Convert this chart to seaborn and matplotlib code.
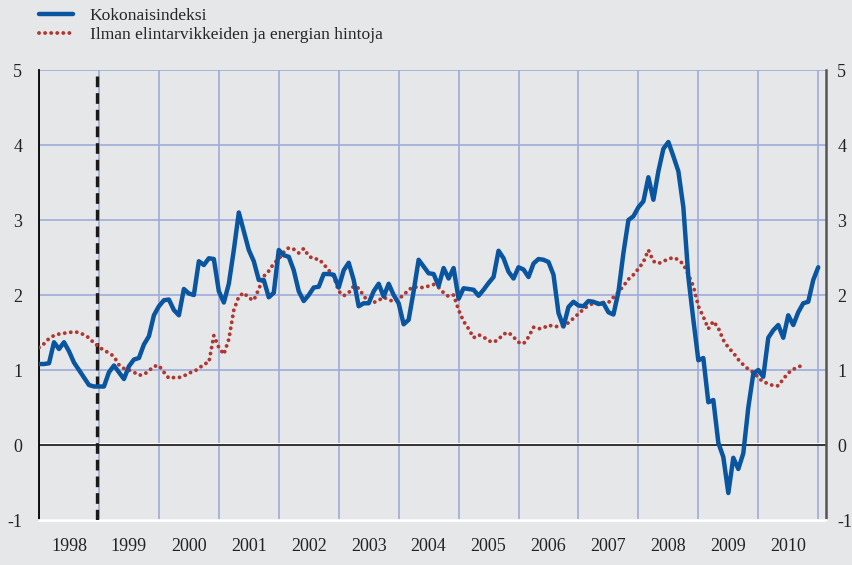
import numpy as np
import pandas as pd
import seaborn as sns
import matplotlib.pyplot as plt
import matplotlib.transforms as mtransforms
from matplotlib.lines import Line2D

# monthly values, Jan 1998 onwards
kokonais = [1.08, 1.08, 1.09, 1.37, 1.28, 1.37, 1.25, 1.10, 1.00, 0.90, 0.80, 0.78,
            0.78, 0.78, 0.97, 1.06, 0.97, 0.88, 1.05, 1.14, 1.16, 1.34, 1.45, 1.73,
            1.85, 1.93, 1.94, 1.80, 1.73, 2.08, 2.02, 2.00, 2.45, 2.40, 2.49, 2.48,
            2.05, 1.90, 2.15, 2.60, 3.10, 2.85, 2.60, 2.45, 2.20, 2.20, 1.97, 2.03,
            2.60, 2.53, 2.51, 2.33, 2.05, 1.92, 2.00, 2.10, 2.11, 2.28, 2.28, 2.27,
            2.10, 2.33, 2.43, 2.20, 1.85, 1.89, 1.89, 2.05, 2.15, 1.98, 2.15, 2.00,
            1.89, 1.61, 1.67, 2.05, 2.47, 2.38, 2.29, 2.28, 2.12, 2.36, 2.22, 2.36,
            1.95, 2.09, 2.08, 2.07, 1.99, 2.07, 2.16, 2.24, 2.59, 2.49, 2.31, 2.22,
            2.37, 2.34, 2.24, 2.42, 2.48, 2.47, 2.44, 2.27, 1.76, 1.58, 1.84, 1.91,
            1.86, 1.85, 1.92, 1.91, 1.88, 1.89, 1.77, 1.74, 2.04, 2.56, 3.00, 3.05,
            3.17, 3.25, 3.57, 3.27, 3.65, 3.95, 4.04, 3.85, 3.65, 3.17, 2.24, 1.67,
            1.13, 1.16, 0.57, 0.60, 0.03, -0.16, -0.64, -0.17, -0.32, -0.11, 0.50, 0.95,
            1.00, 0.91, 1.43, 1.53, 1.60, 1.43, 1.73, 1.60, 1.77, 1.89, 1.91, 2.20,
            2.37]

ilman = [1.30, 1.35, 1.42, 1.46, 1.48, 1.49, 1.50, 1.51, 1.50, 1.47, 1.43, 1.36,
         1.31, 1.26, 1.23, 1.18, 1.07, 1.02, 1.00, 0.97, 0.93, 0.94, 0.99, 1.05,
         1.06, 0.97, 0.89, 0.90, 0.90, 0.92, 0.96, 0.98, 1.02, 1.08, 1.10, 1.46,
         1.30, 1.21, 1.41, 1.80, 1.98, 2.03, 1.96, 1.93, 2.08, 2.25, 2.32, 2.42,
         2.48, 2.57, 2.63, 2.61, 2.56, 2.62, 2.52, 2.48, 2.48, 2.41, 2.33, 2.25,
         2.05, 1.99, 2.03, 2.12, 2.09, 1.99, 1.90, 1.90, 1.93, 1.97, 1.94, 1.91,
         1.95, 2.00, 2.07, 2.11, 2.10, 2.10, 2.12, 2.14, 2.10, 2.03, 1.98, 2.00,
         1.80, 1.65, 1.55, 1.43, 1.47, 1.44, 1.39, 1.37, 1.41, 1.48, 1.50, 1.44,
         1.37, 1.35, 1.44, 1.57, 1.55, 1.56, 1.60, 1.58, 1.58, 1.59, 1.63, 1.69,
         1.75, 1.81, 1.86, 1.89, 1.90, 1.90, 1.90, 1.97, 2.04, 2.12, 2.21, 2.27,
         2.35, 2.44, 2.60, 2.45, 2.42, 2.45, 2.48, 2.50, 2.47, 2.41, 2.27, 2.12,
         1.85, 1.71, 1.55, 1.65, 1.56, 1.40, 1.30, 1.23, 1.14, 1.07, 1.01, 0.97,
         0.90, 0.84, 0.82, 0.79, 0.79, 0.88, 0.96, 1.01, 1.04, 1.07]

years = list(range(1998, 2011))
y_ticks = [-1, 0, 1, 2, 3, 4, 5]
labels = ['Kokonaisindeksi', 'Ilman elintarvikkeiden ja energian hintoja']

blue = '#0a55a0'
red = '#b0372f'
bg = '#e6e7e9'
gridc = '#9eabda'

df1 = pd.DataFrame({'t': 1998 + np.arange(len(kokonais)) / 12, 'v': kokonais})
df2 = pd.DataFrame({'t': 1998 + np.arange(len(ilman)) / 12, 'v': ilman})

sns.set_style('white')
plt.rcParams['font.family'] = ['Liberation Serif', 'DejaVu Serif']

fig = plt.figure(figsize=(8.52, 5.65), dpi=100, facecolor=bg)
ax = fig.add_axes([0.0458, 0.0796, 0.9237, 0.7965])
ax.set_facecolor(bg)

# dashed marker line and zero line
ax.axvline(1998.97, color='#1a1a1a', lw=2.4, dashes=(3.2, 1.8), zorder=3)
ax.axhline(0.015, color='white', lw=2, zorder=2)
ax.axhline(0, color='#222222', lw=1.3, zorder=2.5)

sns.lineplot(data=df2, x='t', y='v', ax=ax, color=red, lw=2.8,
             linestyle=(0, (0.01, 1.55)), dash_capstyle='round', zorder=4, legend=False)
sns.lineplot(data=df1, x='t', y='v', ax=ax, color=blue, lw=3.2, zorder=5, legend=False)

ax.set_xlim(1998, 2011.13)
ax.set_ylim(-1, 5)
ax.set_xlabel('')
ax.set_ylabel('')

ax.set_xticks(range(1998, 2012))
ax.set_xticklabels([])
ax.set_xticks([y + 0.5 for y in years], minor=True)
ax.set_xticklabels([str(y) for y in years], minor=True, fontsize=13)
ax.tick_params(axis='x', which='major', length=7, width=1.3, color='black', direction='out')
ax.tick_params(axis='x', which='minor', length=0, pad=13, labelcolor='#222222')

ax.set_yticks(y_ticks)
ax.set_yticklabels([str(v) for v in y_ticks], fontsize=13)
ax.tick_params(axis='y', length=0, pad=12, labelcolor='#222222', labelright=True)
# right-hand labels sit closer to the spine
offset = mtransforms.ScaledTranslation(-4 / 72, 0, fig.dpi_scale_trans)
for t in ax.yaxis.get_major_ticks():
    t.label2.set_transform(t.label2.get_transform() + offset)

ax.grid(True, which='major', color=gridc, lw=1.2, zorder=1)
ax.set_axisbelow(True)

ax.spines['top'].set_visible(False)
ax.spines['left'].set_color('black')
ax.spines['left'].set_linewidth(1.3)
ax.spines['right'].set_color('#555555')
ax.spines['right'].set_linewidth(1.8)
ax.spines['bottom'].set_color('white')
ax.spines['bottom'].set_linewidth(2)

handles = [Line2D([], [], color=blue, lw=3.2),
           Line2D([], [], color=red, lw=2.8, linestyle=(0, (0.01, 1.55)), dash_capstyle='round')]
fig.legend(handles, labels, loc='upper left', bbox_to_anchor=(0.027, 1.014), frameon=False,
           fontsize=12.6, handlelength=1.95, handletextpad=0.95, labelspacing=0.16)

fig.savefig('out.png', dpi=100, facecolor=bg)
